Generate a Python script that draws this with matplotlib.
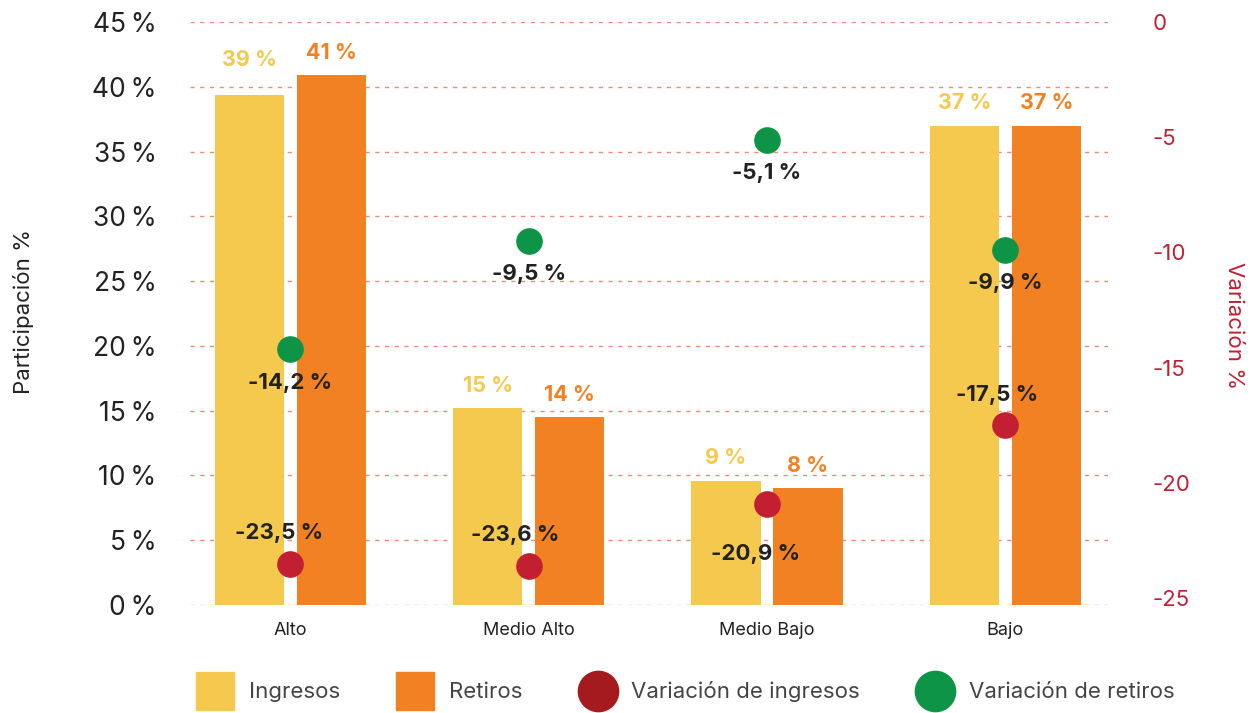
import matplotlib
matplotlib.use("Agg")
import matplotlib.pyplot as plt
from matplotlib.lines import Line2D
import numpy as np

plt.rcParams['font.family'] = ['Inter', 'DejaVu Sans']

categorias = ["Alto", "Medio Alto", "Medio Bajo", "Bajo"]
ingresos = [39.4, 15.2, 9.6, 37.0]
retiros = [40.9, 14.5, 9.0, 37.0]
ingresos_lbl = ["39 %", "15 %", "9 %", "37 %"]
retiros_lbl = ["41 %", "14 %", "8 %", "37 %"]
var_ingresos = [-23.5, -23.6, -20.9, -17.5]
var_retiros = [-14.2, -9.5, -5.1, -9.9]
var_ingresos_lbl = ["-23,5 %", "-23,6 %", "-20,9 %", "-17,5 %"]
var_retiros_lbl = ["-14,2 %", "-9,5 %", "-5,1 %", "-9,9 %"]
left_ticks = [0, 5, 10, 15, 20, 25, 30, 35, 40, 45]
right_ticks = [0, -5, -10, -15, -20, -25]

C_YEL = "#F5C94E"
C_ORA = "#F28123"
C_RED = "#C21F32"
C_GRN = "#0E9447"
C_GRID = "#F08A70"
C_TXT = "#222222"

fig = plt.figure(figsize=(12.53, 7.13), dpi=100)
ax = fig.add_axes([190/1253, 1-605/713, (1108-190)/1253, (605-22)/713])
x = np.arange(len(categorias))
w = 0.29
off = 0.172

ax.set_ylim(0, 45)
ax.set_xlim(-0.42, 3.43)
ax.set_yticks(left_ticks)
ax.set_yticklabels([f"{t}\u2009%" for t in left_ticks])
ax.yaxis.grid(True, linestyle=(0, (3, 4)), color=C_GRID, linewidth=1)
ax.set_axisbelow(True)
for s in ax.spines.values():
    s.set_visible(False)
ax.tick_params(axis='y', length=0, pad=24, labelsize=19, labelcolor=C_TXT)
ax.tick_params(axis='x', length=0, pad=12, labelsize=13, labelcolor=C_TXT)
ax.set_xticks(x)
ax.set_xticklabels(categorias)
ax.set_ylabel("Participación %", fontsize=16, color=C_TXT)
ax.yaxis.set_label_coords(-0.170, 0.503)

ax.bar(x - off, ingresos, w, color=C_YEL, zorder=2)
ax.bar(x + off, retiros, w, color=C_ORA, zorder=2)
for xi, v, l in zip(x - off, ingresos, ingresos_lbl):
    dy = 18 if l == "39 %" else 9
    ax.annotate(l, (xi, v), xytext=(0, dy), textcoords="offset points",
                ha="center", va="bottom", fontsize=15.5, fontweight="bold", color=C_YEL)
for xi, v, l in zip(x + off, retiros, retiros_lbl):
    ax.annotate(l, (xi, v), xytext=(0, 9), textcoords="offset points",
                ha="center", va="bottom", fontsize=15.5, fontweight="bold", color=C_ORA)

ax2 = ax.twinx()
ax2.set_ylim(-25.3, 0)
ax2.set_yticks(right_ticks)
ax2.set_yticklabels([str(t) for t in right_ticks])
for s in ax2.spines.values():
    s.set_visible(False)
ax2.tick_params(axis='y', length=0, pad=32, labelsize=16, labelcolor=C_RED)
ax2.set_ylabel("Variación %", fontsize=16, color=C_RED, rotation=-90, va="center")
ax2.yaxis.set_label_coords(1.137, 0.48)

ax2.scatter(x, var_ingresos, s=330, color=C_RED, zorder=5)
ax2.scatter(x, var_retiros, s=330, color=C_GRN, zorder=5)
red_dy = [22, 22, -36, 22]
red_dx = [-8, -10, -8, -6]
for xi, v, l, dy, dx in zip(x, var_ingresos, var_ingresos_lbl, red_dy, red_dx):
    ax2.annotate(l, (xi, v), xytext=(dx, dy), textcoords="offset points",
                 ha="center", va="center", fontsize=16, fontweight="bold", color=C_TXT, zorder=6)
for xi, v, l in zip(x, var_retiros, var_retiros_lbl):
    ax2.annotate(l, (xi, v), xytext=(0, -24), textcoords="offset points",
                 ha="center", va="center", fontsize=16, fontweight="bold", color=C_TXT, zorder=6)

handles = [
    Line2D([], [], marker="s", linestyle="none", markersize=28, color=C_YEL),
    Line2D([], [], marker="s", linestyle="none", markersize=28, color=C_ORA),
    Line2D([], [], marker="o", linestyle="none", markersize=29, color="#A51A1E"),
    Line2D([], [], marker="o", linestyle="none", markersize=29, color=C_GRN),
]
labels = ["Ingresos", "Retiros", "Variación de ingresos", "Variación de retiros"]
fig.legend(handles, labels, loc="center", bbox_to_anchor=(686/1253, 1-692/713), ncol=4,
           frameon=False, fontsize=16, labelcolor="#444444", handlelength=1.6,
           handletextpad=0.7, columnspacing=2.6)

fig.savefig("out.png", dpi=100)
